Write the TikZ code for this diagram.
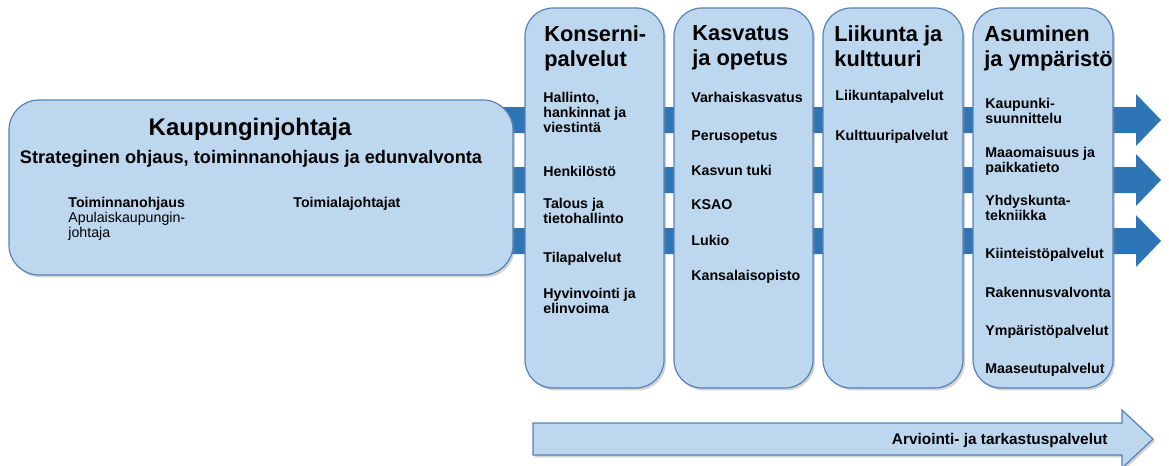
\documentclass[tikz,border=0pt]{standalone}
\usepackage{fontspec}
\setmainfont{Liberation Sans}
\usetikzlibrary{shadows}

\definecolor{boxfill}{HTML}{BDD7EE}
\definecolor{boxline}{HTML}{5682B8}
\definecolor{bandblue}{HTML}{2E75B6}

\newcommand*{\colTop}{8}
\newcommand*{\colBot}{388}

\begin{document}
\begin{tikzpicture}
[
	x=0.5pt, y=-0.5pt,
	box/.style={draw=boxline, fill=boxfill, line width=0.6pt, rounded corners=14pt,
		drop shadow={shadow xshift=1pt, shadow yshift=-1.2pt, opacity=0.35}},
	flatbox/.style={draw=boxline, fill=boxfill, line width=0.6pt,
		drop shadow={shadow xshift=1pt, shadow yshift=-1.2pt, opacity=0.35}},
	head/.style={anchor=north west, align=left, inner sep=0pt, font=\fontsize{10.9}{12.5}\selectfont\bfseries},
	item/.style={anchor=north west, align=left, inner sep=0pt, font=\fontsize{7.1}{7.5}\selectfont\bfseries}
]

	\useasboundingbox (0,0) rectangle (1169,466);

	% bands
	\foreach \c in {120,180,241}
		\fill[bandblue] (500,\c-13) -- (1136,\c-13) -- (1136,\c-26) -- (1161,\c)
			-- (1136,\c+26) -- (1136,\c+13) -- (500,\c+13) -- cycle;

	% boxes
	\draw[box, rounded corners=15pt] (9,100) rectangle (513,275);
	\draw[box] (525,\colTop) rectangle (664,\colBot);
	\draw[box] (674,\colTop) rectangle (813,\colBot);
	\draw[box] (823,\colTop) rectangle (963,\colBot);
	\draw[box] (973,\colTop) rectangle (1113,\colBot);

	% bottom arrow
	\draw[flatbox] (533,423) -- (1122,423) -- (1122,410) -- (1153,439)
		-- (1122,468) -- (1122,455) -- (533,455) -- cycle;
	\node[anchor=base east, inner sep=0pt, font=\fontsize{7.7}{9}\selectfont\bfseries] (arv) at (1108,444)
		{Arviointi- ja tarkastuspalvelut};

	% left box
	\node[anchor=north, inner sep=0pt, font=\fontsize{12}{14}\selectfont\bfseries] (kj) at (250,118)
		{Kaupunginjohtaja};
	\node[anchor=north, inner sep=0pt, font=\fontsize{9.1}{11}\selectfont\bfseries] (strat) at (251,150)
		{Strateginen ohjaus, toiminnanohjaus ja edunvalvonta};
	\node[item] (toim) at (68,197) {Toiminnanohjaus\\{\mdseries Apulaiskaupungin-}\\{\mdseries johtaja}};
	\node[item] (tjoht) at (293,197) {Toimialajohtajat};

	% headers
	\node[head] (konserni) at (544,25) {Konserni-\\palvelut};
	\node[head] (kasvatus) at (692,25) {Kasvatus\\ja opetus};
	\node[head] (liikunta) at (834,25) {Liikunta ja\\kulttuuri};
	\node[head] (asuminen) at (984,25) {Asuminen\\ja ympäristö};

	% items
	\foreach \y/\t [count=\i] in {92/{Hallinto,\\hankinnat ja\\viestintä}, 166/Henkilöstö,
		198/{Talous ja\\tietohallinto}, 252/Tilapalvelut, 288/{Hyvinvointi ja\\elinvoima}}
		\node[item] (kons\i) at (543,\y) {\t};
	\foreach \y/\t [count=\i] in {92/Varhaiskasvatus, 130/Perusopetus, 165/Kasvun tuki,
		199/KSAO, 235/Lukio, 270/Kansalaisopisto}
		\node[item] (kasv\i) at (691,\y) {\t};
	\foreach \y/\t [count=\i] in {90/Liikuntapalvelut, 130/Kulttuuripalvelut}
		\node[item] (liik\i) at (835,\y) {\t};
	\foreach \y/\t [count=\i] in {98/{Kaupunki-\\suunnittelu}, 147/{Maaomaisuus ja\\paikkatieto},
		195/{Yhdyskunta-\\tekniikka}, 248/Kiinteistöpalvelut, 287/Rakennusvalvonta,
		325/Ympäristöpalvelut, 363/Maaseutupalvelut}
		\node[item] (asum\i) at (985,\y) {\t};

\end{tikzpicture}
\end{document}
